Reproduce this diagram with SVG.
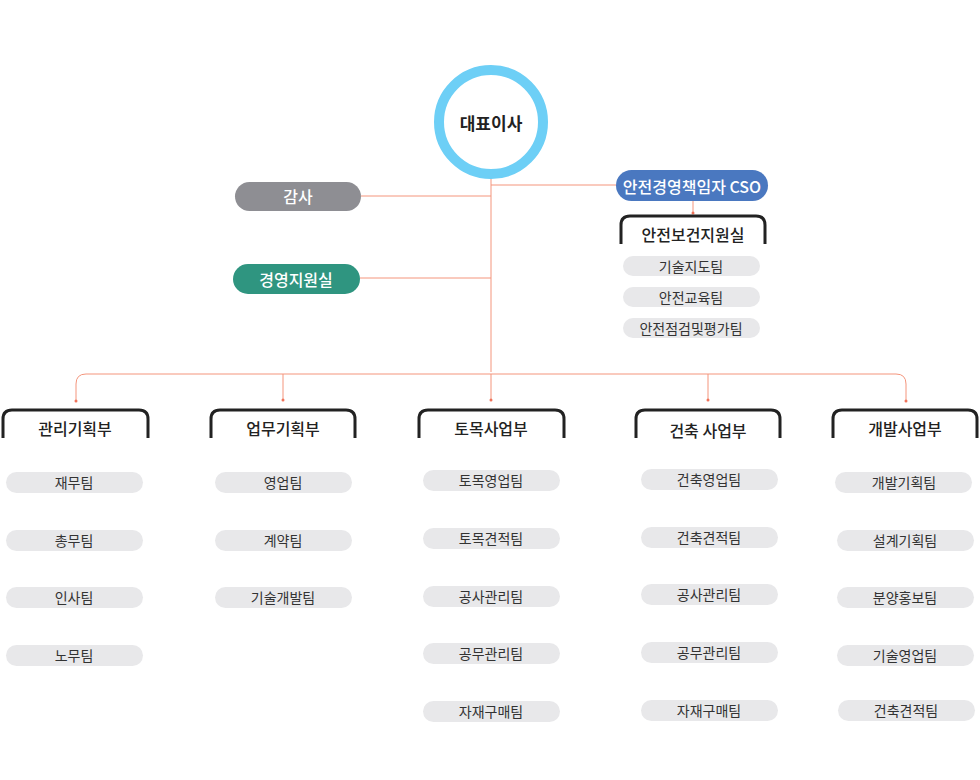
<svg xmlns="http://www.w3.org/2000/svg" width="980" height="780" viewBox="0 0 980 780">
<defs>
<style>
text{font-family:"Noto Sans CJK KR","Noto Sans",sans-serif;text-anchor:middle;dominant-baseline:central}
.ln{fill:none;stroke:#f4957c;stroke-width:1}
.dot{fill:#f0735a}
.br{fill:none;stroke:#222;stroke-width:3}
.dept{font-size:16px;font-weight:500;fill:#222}
.team{fill:#e8e8ea}
.tt{font-size:14px;fill:#333}
.pt{font-size:16px;fill:#fff;font-weight:500}
</style>
</defs>
<g id="connectors">
<path class="ln" d="M491 174V372M361 196H491M360 278H491M491 185H616M693 201V213"/>
<path class="ln" d="M76 401V384Q76 374 86 374H896Q906 374 906 384V401M283 374V400M491 374V400M708 374V400"/>
<circle class="dot" cx="693" cy="213" r="1.5"/>
<circle class="dot" cx="76" cy="401" r="1.5"/><circle class="dot" cx="283" cy="400" r="1.5"/><circle class="dot" cx="491" cy="400" r="1.5"/><circle class="dot" cx="708" cy="400" r="1.5"/><circle class="dot" cx="906" cy="401" r="1.5"/>
</g>
<g id="ceo"><circle cx="491" cy="122" r="52" fill="#fff" stroke="#6dcff6" stroke-width="10"/><text x="491" y="122" font-size="17" font-weight="700" fill="#222">대표이사</text></g>
<g id="audit"><rect x="235" y="182" width="126" height="29" rx="14.5" fill="#8e8e93"/><text class="pt" x="298" y="196">감사</text></g>
<g id="mgmt"><rect x="233" y="264" width="127" height="30" rx="15" fill="#2f9580"/><text class="pt" x="296" y="279">경영지원실</text></g>
<g id="cso"><rect x="616" y="170" width="152" height="31" rx="15.5" fill="#4a78c0"/><text class="pt" x="692" y="186" font-size="15">안전경영책임자 CSO</text></g>
<g id="safety"><path class="br" d="M621 244V225Q621 216 630 216H756Q765 216 765 225V244"/><text class="dept" x="693" y="234">안전보건지원실</text>
<rect class="team" x="623" y="256" width="137" height="20" rx="10"/><text class="tt" x="691" y="266">기술지도팀</text>
<rect class="team" x="623" y="287" width="137" height="20" rx="10"/><text class="tt" x="691" y="297">안전교육팀</text>
<rect class="team" x="623" y="318" width="137" height="20" rx="10"/><text class="tt" x="691" y="328">안전점검및평가팀</text></g>
<g id="d1"><path class="br" d="M3 438V419Q3 410 12 410H139Q148 410 148 419V438"/><text class="dept" x="75" y="428">관리기획부</text>
<rect class="team" x="6" y="472" width="137" height="21" rx="10.5"/><text class="tt" x="74" y="482">재무팀</text>
<rect class="team" x="6" y="530" width="137" height="21" rx="10.5"/><text class="tt" x="74" y="540">총무팀</text>
<rect class="team" x="6" y="587" width="137" height="21" rx="10.5"/><text class="tt" x="74" y="597">인사팀</text>
<rect class="team" x="6" y="645" width="137" height="21" rx="10.5"/><text class="tt" x="74" y="655">노무팀</text></g>
<g id="d2"><path class="br" d="M211 438V419Q211 410 220 410H346Q355 410 355 419V438"/><text class="dept" x="283" y="428">업무기획부</text>
<rect class="team" x="215" y="472" width="137" height="21" rx="10.5"/><text class="tt" x="283" y="482">영업팀</text>
<rect class="team" x="215" y="530" width="137" height="21" rx="10.5"/><text class="tt" x="283" y="540">계약팀</text>
<rect class="team" x="215" y="587" width="137" height="21" rx="10.5"/><text class="tt" x="283" y="597">기술개발팀</text></g>
<g id="d3"><path class="br" d="M419 438V419Q419 410 428 410H555Q564 410 564 419V438"/><text class="dept" x="491" y="428">토목사업부</text>
<rect class="team" x="423" y="470" width="137" height="21" rx="10.5"/><text class="tt" x="491" y="480">토목영업팀</text>
<rect class="team" x="423" y="528" width="137" height="21" rx="10.5"/><text class="tt" x="491" y="538">토목견적팀</text>
<rect class="team" x="423" y="586" width="137" height="21" rx="10.5"/><text class="tt" x="491" y="596">공사관리팀</text>
<rect class="team" x="423" y="643" width="137" height="21" rx="10.5"/><text class="tt" x="491" y="653">공무관리팀</text>
<rect class="team" x="423" y="701" width="137" height="21" rx="10.5"/><text class="tt" x="491" y="711">자재구매팀</text></g>
<g id="d4"><path class="br" d="M636 438V419Q636 410 645 410H771Q780 410 780 419V438"/><text class="dept" x="708" y="430">건축 사업부</text>
<rect class="team" x="641" y="469" width="137" height="21" rx="10.5"/><text class="tt" x="709" y="479">건축영업팀</text>
<rect class="team" x="641" y="527" width="137" height="21" rx="10.5"/><text class="tt" x="709" y="537">건축견적팀</text>
<rect class="team" x="641" y="584" width="137" height="21" rx="10.5"/><text class="tt" x="709" y="594">공사관리팀</text>
<rect class="team" x="641" y="642" width="137" height="21" rx="10.5"/><text class="tt" x="709" y="652">공무관리팀</text>
<rect class="team" x="641" y="700" width="137" height="21" rx="10.5"/><text class="tt" x="709" y="710">자재구매팀</text></g>
<g id="d5"><path class="br" d="M833 438V419Q833 410 842 410H968Q977 410 977 419V438"/><text class="dept" x="905" y="428">개발사업부</text>
<rect class="team" x="835" y="472" width="137" height="21" rx="10.5"/><text class="tt" x="904" y="482">개발기획팀</text>
<rect class="team" x="837" y="530" width="137" height="21" rx="10.5"/><text class="tt" x="905" y="540">설계기획팀</text>
<rect class="team" x="837" y="587" width="137" height="21" rx="10.5"/><text class="tt" x="905" y="597">분양홍보팀</text>
<rect class="team" x="837" y="645" width="137" height="21" rx="10.5"/><text class="tt" x="905" y="655">기술영업팀</text>
<rect class="team" x="838" y="700" width="137" height="21" rx="10.5"/><text class="tt" x="906" y="710">건축견적팀</text></g>
</svg>
